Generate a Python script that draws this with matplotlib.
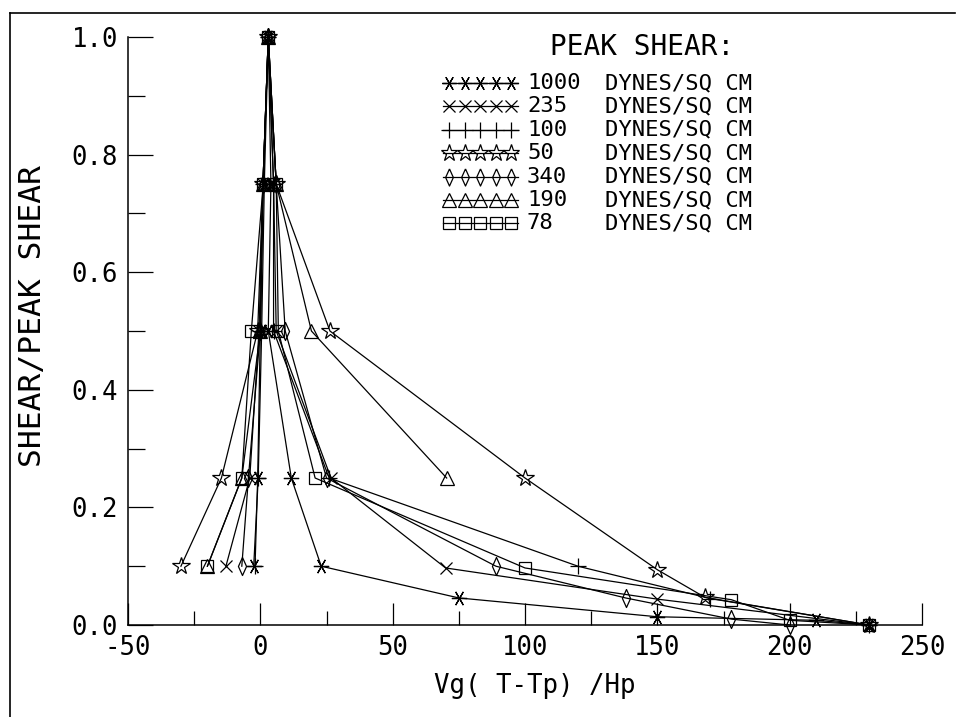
import matplotlib
matplotlib.use("Agg")
import matplotlib.pyplot as plt
from matplotlib.lines import Line2D
from matplotlib.ticker import MultipleLocator, FormatStrFormatter

plt.rcParams['font.family'] = ['DejaVu Sans Mono', 'DejaVu Sans']
plt.rcParams['axes.unicode_minus'] = False

W, H = 959, 717

# peak shear values (dynes/sq cm), in legend order
peak_labels = ["1000", "235", "100", "50", "340", "190", "78"]

# each profile: left flank up to the peak, then right flank down
x_1000 = [-2.5, -0.8, 0.5, 1.5, 3.0, 4.0, 3.0, 11.7, 23.0, 75.0, 150.0, 210.0, 230.0]
y_1000 = [0.10, 0.25, 0.50, 0.75, 1.00, 0.75, 0.50, 0.25, 0.10, 0.046, 0.014, 0.008, 0.0]

x_235 = [-13.0, -4.0, -0.5, 1.0, 3.0, 5.0, 6.0, 26.7, 70.0, 150.0, 230.0]
y_235 = [0.10, 0.25, 0.50, 0.75, 1.00, 0.75, 0.50, 0.25, 0.097, 0.044, 0.0]

x_100 = [-2.0, -1.0, 0.0, 1.0, 3.0, 5.0, 5.0, 26.0, 120.0, 170.0, 230.0]
y_100 = [0.10, 0.25, 0.50, 0.75, 1.00, 0.75, 0.50, 0.25, 0.10, 0.045, 0.0]

x_50 = [-30.0, -14.7, -1.0, 1.0, 3.0, 6.0, 26.3, 100.0, 150.0, 168.0, 230.0]
y_50 = [0.10, 0.25, 0.50, 0.75, 1.00, 0.75, 0.50, 0.25, 0.094, 0.047, 0.0]

x_340 = [-7.0, -4.5, 0.0, 1.0, 3.0, 6.0, 9.4, 25.0, 89.0, 138.0, 178.0, 200.0]
y_340 = [0.10, 0.25, 0.50, 0.75, 1.00, 0.75, 0.50, 0.25, 0.10, 0.046, 0.010, 0.0]

x_190 = [-20.0, -7.0, 0.0, 1.0, 3.0, 6.0, 19.3, 70.4]
y_190 = [0.10, 0.25, 0.50, 0.75, 1.00, 0.75, 0.50, 0.25]

x_78 = [-20.0, -7.0, -3.4, 1.1, 3.0, 6.0, 6.8, 20.7, 100.0, 178.0, 200.0, 230.0]
y_78 = [0.10, 0.25, 0.50, 0.75, 1.00, 0.75, 0.50, 0.25, 0.097, 0.043, 0.008, 0.0]

series_x = [x_1000, x_235, x_100, x_50, x_340, x_190, x_78]
series_y = [y_1000, y_235, y_100, y_50, y_340, y_190, y_78]

x_ticks = [-50, 0, 50, 100, 150, 200, 250]
y_ticks = [0.0, 0.2, 0.4, 0.6, 0.8, 1.0]

thin_diamond = [(0, 1), (0.45, 0), (0, -1), (-0.45, 0), (0, 1)]
styles = [
    dict(marker=(6, 2, 90), ms=11),
    dict(marker='x', ms=9),
    dict(marker='+', ms=12),
    dict(marker='*', ms=13),
    dict(marker=thin_diamond, ms=13),
    dict(marker='^', ms=10),
    dict(marker='s', ms=8.5),
]


def fx(px):
    return px / W


def fy(py):
    return 1 - py / H


fig = plt.figure(figsize=(W / 100, H / 100), dpi=100)
ax_l, ax_r, ax_t, ax_b = 128, 922, 37, 625
ax = fig.add_axes([fx(ax_l), fy(ax_b), (ax_r - ax_l) / W, (ax_b - ax_t) / H])

for xs, ys, st in zip(series_x, series_y, styles):
    ax.plot(xs, ys, color='black', lw=0.9, mfc='none', mec='black', mew=0.9,
            clip_on=False, **st)

ax.set_xlim(-50, 250)
ax.set_ylim(0, 1.0)
ax.set_xticks(x_ticks)
ax.set_yticks(y_ticks)
ax.xaxis.set_minor_locator(MultipleLocator(25))
ax.yaxis.set_minor_locator(MultipleLocator(0.1))
ax.xaxis.set_major_formatter(FormatStrFormatter('%d'))
ax.yaxis.set_major_formatter(FormatStrFormatter('%.1f'))
ax.spines['top'].set_visible(False)
ax.spines['right'].set_visible(False)
for s in ('left', 'bottom'):
    ax.spines[s].set_linewidth(1.1)
ax.tick_params(axis='both', which='both', direction='in', width=0.9,
               labelsize=18.5, pad=7, colors='black')
ax.tick_params(axis='x', which='major', length=16)
ax.tick_params(axis='x', which='minor', length=10)
ax.tick_params(axis='y', which='major', length=18)
ax.tick_params(axis='y', which='minor', length=12)

fig.text(fx(535), fy(686), "Vg( T-Tp) /Hp", fontsize=18.5,
         ha='center', va='center')
fig.text(fx(33), fy(316), "SHEAR/PEAK SHEAR", fontsize=22.5,
         rotation=90, ha='center', va='center')

# legend, drawn by hand to match the plotter layout
fig.text(fx(550), fy(47), "PEAK SHEAR:", fontsize=20, ha='left', va='center')
row0, row_step = 83, 23.4
for i, (lab, st) in enumerate(zip(peak_labels, styles)):
    ry = fy(row0 + i * row_step)
    xs = [fx(449 + k * 15.5) for k in range(5)]
    fig.add_artist(Line2D([fx(443), fx(518)], [ry, ry], color='black', lw=0.9))
    fig.add_artist(Line2D(xs, [ry] * 5, color='black', lw=0, mfc='none',
                          mec='black', mew=0.9, marker=st['marker'],
                          ms=st['ms'] * 0.95))
    fig.text(fx(527), ry, lab, fontsize=16, ha='left', va='center')
    fig.text(fx(605), ry, "DYNES/SQ CM", fontsize=16, ha='left', va='center')

# page border from the scanned sheet
fig.add_artist(Line2D([fx(10), fx(955)], [fy(13), fy(13)], color='black', lw=1.2))
fig.add_artist(Line2D([fx(10), fx(10)], [fy(13), fy(717)], color='black', lw=1.2))

fig.savefig("out.png", dpi=100)
